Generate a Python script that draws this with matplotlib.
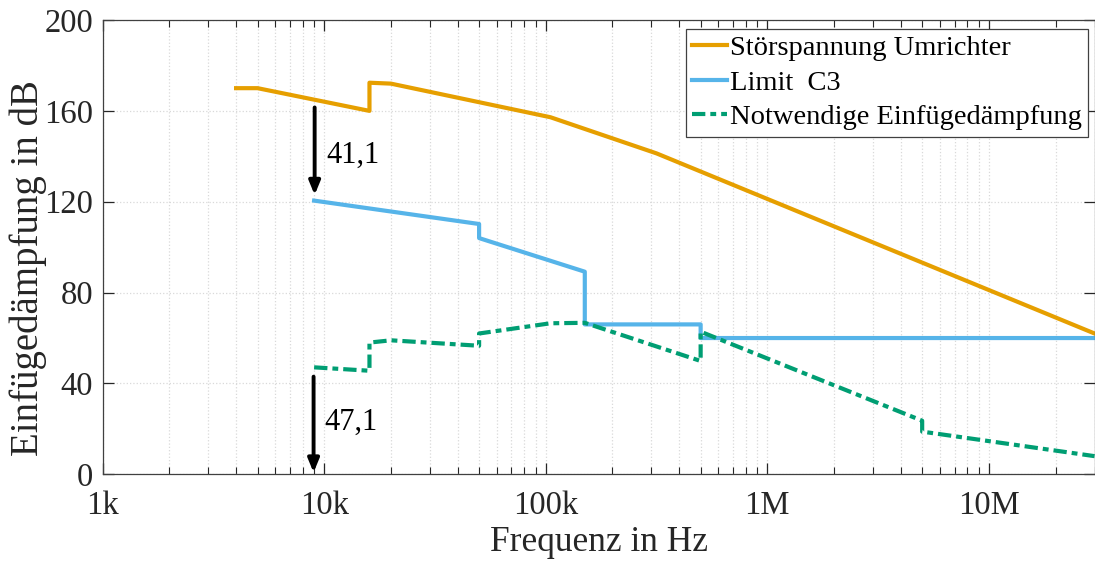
import numpy as np
import matplotlib.pyplot as plt
from matplotlib.ticker import FixedLocator, LogLocator, NullFormatter

plt.rcParams['font.family'] = ['Liberation Serif', 'DejaVu Serif']

# Störspannung Umrichter
f_stoer = [4e3, 5e3, 16e3, 16e3, 20e3, 105e3, 316e3, 30e6]
db_stoer = [170, 170, 160, 172.4, 172, 157.2, 141.3, 62]

# Limit C3
f_limit = [9e3, 50e3, 50e3, 150e3, 150e3, 500e3, 500e3, 30e6]
db_limit = [120.5, 110.2, 104, 89.2, 66, 66, 60, 60]

# Notwendige Einfügedämpfung
f_need = [9e3, 16e3, 16e3, 20e3, 50e3, 50e3, 105e3, 150e3, 500e3, 500e3, 5e6, 5e6, 30e6]
db_need = [47.1, 45.6, 58, 59, 56.6, 62, 66.5, 66.7, 49.9, 62.8, 23.6, 18.8, 8]

xticks = [1e3, 1e4, 1e5, 1e6, 1e7]
xlabels = ['1k', '10k', '100k', '1M', '10M']

c_orange = '#E69F00'
c_blue = '#56B4E9'
c_green = '#009E73'

fig = plt.figure(figsize=(10.95, 5.61), dpi=100)
ax = fig.add_axes([0.0938, 0.1545, 0.9058, 0.8098])

ax.plot(f_stoer, db_stoer, color=c_orange, lw=3, label='Störspannung Umrichter')
ax.plot(f_limit, db_limit, color=c_blue, lw=3, label='Limit  C3')
ax.plot(f_need, db_need, color=c_green, lw=3, dashes=(3.2, 1.2, 1.4, 1.2),
        label='Notwendige Einfügedämpfung')

# arrows with labels
ax.annotate('', xy=(9.05e3, 123), xytext=(9.05e3, 161.5),
            arrowprops=dict(arrowstyle='-|>,head_length=0.8,head_width=0.33',
                            color='k', lw=2.8, shrinkA=0, shrinkB=0))
ax.text(10.2e3, 140.6, '41,1', fontsize=22, va='center', ha='left')
ax.annotate('', xy=(8.95e3, 0.8), xytext=(8.95e3, 43),
            arrowprops=dict(arrowstyle='-|>,head_length=0.8,head_width=0.33',
                            color='k', lw=2.8, shrinkA=0, shrinkB=0))
ax.text(10.0e3, 22.9, '47,1', fontsize=22, va='center', ha='left')

ax.set_xscale('log')
ax.set_xlim(1e3, 3e7)
ax.set_ylim(0, 200)
ax.xaxis.set_major_locator(FixedLocator(xticks))
ax.set_xticklabels(xlabels)
ax.xaxis.set_minor_locator(LogLocator(base=10, subs=np.arange(2, 10)))
ax.xaxis.set_minor_formatter(NullFormatter())
ax.set_yticks([0, 40, 80, 120, 160, 200])

ax.grid(True, which='major', color='#d9d9d9', ls=':', lw=0.9)
ax.grid(True, which='minor', axis='x', color='#d9d9d9', ls=':', lw=0.9)
ax.tick_params(which='both', direction='in', top=True, right=True,
               colors='#262626', labelsize=23.5)
ax.tick_params(axis='x', which='major', pad=12)
ax.tick_params(axis='y', which='major', pad=7)
ax.tick_params(which='major', length=8, width=0.9)
ax.tick_params(which='minor', length=5, width=0.8)
for s in ax.spines.values():
    s.set_color('#404040')
    s.set_linewidth(0.9)

ax.set_xlabel('Frequenz in Hz', fontsize=25.5, color='#262626', labelpad=3)
ax.set_ylabel('Einfügedämpfung in dB', fontsize=28, color='#262626')
ax.yaxis.set_label_coords(-0.056, 0.454)

leg = ax.legend(loc='upper right', bbox_to_anchor=(0.9935, 0.98), borderaxespad=0,
                fontsize=20.5, fancybox=False, framealpha=1, edgecolor='#404040',
                handlelength=1.2, handletextpad=0.12, labelspacing=0.3,
                borderpad=0.22)
leg.get_frame().set_linewidth(0.9)

fig.savefig('out.png', dpi=100)
